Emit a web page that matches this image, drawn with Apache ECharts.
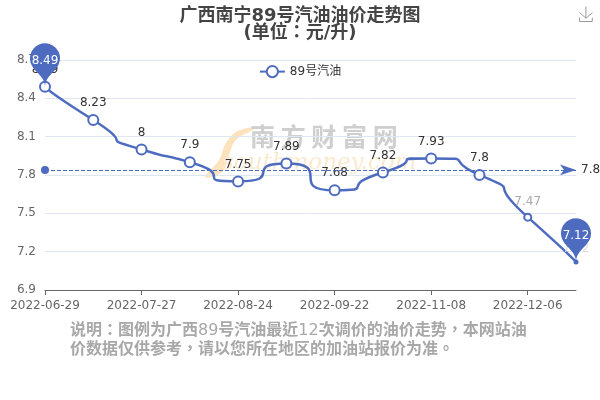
<!DOCTYPE html>
<html>
<head>
<meta charset="utf-8">
<style>
html, body { margin: 0; padding: 0; background: #fff; }
#chart { width: 600px; height: 400px; }
</style>
<script src="https://cdn.jsdelivr.net/npm/echarts@6/dist/echarts.min.js"></script>
</head>
<body>
<div id="chart"></div>
<script>
var dates = ['2022-06-29', '2022-07-13', '2022-07-27', '2022-08-10', '2022-08-24', '2022-09-06',
    '2022-09-22', '2022-10-25', '2022-11-08', '2022-11-22', '2022-12-06', '2022-12-20'];
var prices = [8.49, 8.23, 8, 7.9, 7.75, 7.89, 7.68, 7.82, 7.93, 7.8, 7.47, 7.12];
var seriesName = '89号汽油';
var titleText = '广西南宁89号汽油油价走势图\n(单位：元/升)';
// 数字不加粗，汉字加粗
var noteText = '{b|说明：图例为广西}{n|89}{b|号汽油最近}{n|12}{b|次调价的油价走势，本网站油}\n{b|价数据仅供参考，请以您所在地区的加油站报价为准。}';
var font = 'DejaVu Sans, Noto Sans CJK TC, sans-serif';
var blue = '#4d6bbf';

var myChart = echarts.init(document.getElementById('chart'), null, { renderer: 'canvas' });

// 最后两个点样式不一样（小点、灰色标签）
var seriesData = prices.map(function (v, i) {
    if (i === 10) {
        return { value: v, symbolSize: 7, label: { color: '#aaa' } };
    }
    if (i === 11) {
        return { value: v, symbol: 'circle', symbolSize: 5, label: { color: '#ddd' } };
    }
    return v;
});

var option = {
    animation: false,
    color: [blue],
    title: [{
        text: titleText,
        left: 'center',
        top: 3,
        textStyle: { color: '#444', fontSize: 18, fontWeight: 'bold', fontFamily: font, lineHeight: 17 }
    }, {
        text: noteText,
        left: 65,
        top: 316,
        textStyle: {
            color: '#a8a8a8', fontSize: 16, fontFamily: font, lineHeight: 19,
            rich: {
                b: { color: '#a8a8a8', fontSize: 16, fontWeight: 'bold', fontFamily: font, lineHeight: 19 },
                n: { color: '#a8a8a8', fontSize: 16, fontWeight: 'normal', fontFamily: font, lineHeight: 19 }
            }
        }
    }],
    legend: {
        data: [seriesName],
        top: 60,
        left: 'center',
        itemWidth: 25,
        itemHeight: 14,
        textStyle: { color: '#333', fontSize: 12, fontFamily: font }
    },
    toolbox: {
        right: -10,
        top: -11,
        feature: { saveAsImage: { title: '' } },
        iconStyle: { borderColor: '#999' },
        itemSize: 15
    },
    grid: { left: 45, right: 24, top: 60, bottom: 110 },
    xAxis: {
        type: 'category',
        boundaryGap: false,
        data: dates,
        axisLabel: { interval: 1, color: '#666', fontSize: 12, fontFamily: font, margin: 10 },
        axisTick: { interval: 1 },
        axisLine: { lineStyle: { color: '#666' } }
    },
    yAxis: {
        type: 'value',
        min: 6.9,
        max: 8.7,
        interval: 0.3,
        axisLabel: { color: '#666', fontSize: 12, fontFamily: font, margin: 9 },
        axisLine: { show: false },
        axisTick: { show: false },
        splitLine: { lineStyle: { color: '#e0e6f1' } }
    },
    series: [{
        name: seriesName,
        type: 'line',
        data: seriesData,
        smooth: 1,
        symbol: 'emptyCircle',
        symbolSize: 10,
        clip: false,
        lineStyle: { width: 2.5, color: blue },
        itemStyle: { color: blue, borderWidth: 2 },
        label: { show: true, position: 'top', color: '#333', fontSize: 12, fontFamily: font },
        markPoint: {
            symbolSize: 50,
            itemStyle: { color: blue },
            label: { color: '#fff', fontSize: 12, fontFamily: font },
            data: [{ type: 'max' }, { type: 'min' }]
        },
        markLine: {
            symbol: ['circle', 'arrow'],
            lineStyle: { color: blue, type: 'dashed', width: 1 },
            label: { color: '#333', fontSize: 12, fontFamily: font, formatter: function (p) { return p.value.toFixed(2); } },
            data: [{ type: 'average' }]
        }
    }],
    // 水印
    graphic: [{
        type: 'polygon', z: 0,
        shape: {
            points: [[256, 128], [238, 131], [226, 143], [219, 160], [205, 177], [222, 172], [229, 155], [236, 140]],
            smooth: 0.4
        },
        style: { fill: '#fce3bd' }
    }, {
        type: 'text', left: 250, top: 124, z: 0,
        style: { text: '南 方 财 富 网', fill: '#cfcfcf', font: 'bold 25px "Noto Sans CJK SC"' }
    }, {
        type: 'text', left: 222, top: 152, z: 0,
        style: { text: 'southmoney.com', fill: '#fbe9cf', font: 'italic 23px "DejaVu Serif"' }
    }]
};
myChart.setOption(option);
window.addEventListener('resize', function () {
    myChart.resize();
});
</script>
</body>
</html>
